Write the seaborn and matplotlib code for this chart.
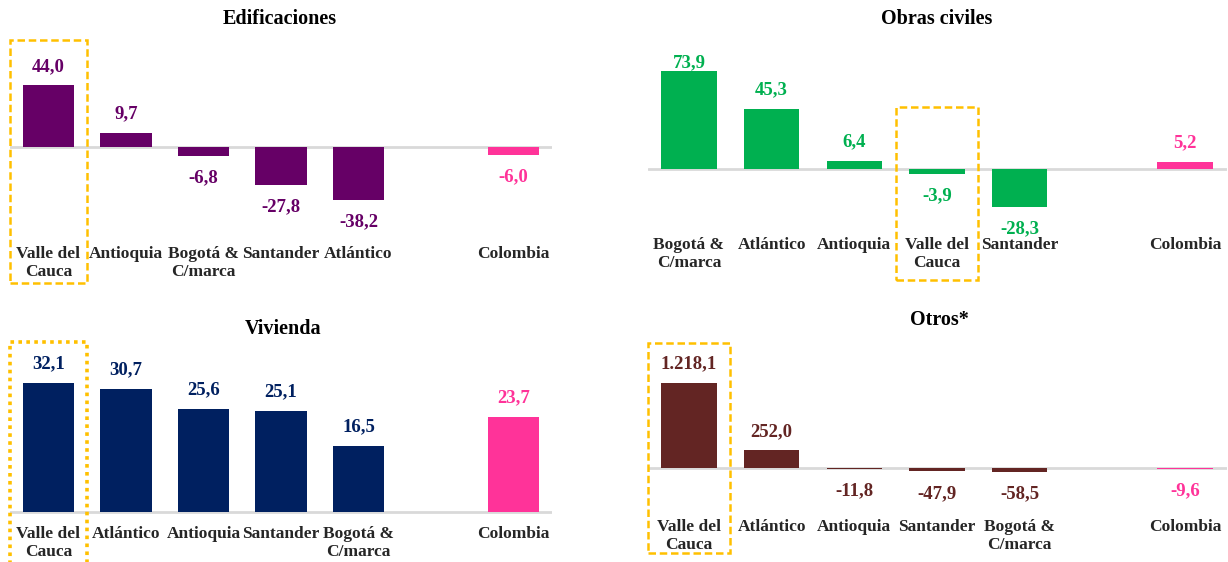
import matplotlib
matplotlib.use("Agg")
import pandas as pd
import matplotlib.pyplot as plt
import matplotlib.transforms as mtransforms
from matplotlib.patches import Rectangle
import seaborn as sns

# Datos de los cuatro paneles
edif_cats = ["Valle del\nCauca", "Antioquia", "Bogotá &\nC/marca", "Santander", "Atlántico", "Colombia"]
edif_vals = [44.0, 9.7, -6.8, -27.8, -38.2, -6.0]

obras_cats = ["Bogotá &\nC/marca", "Atlántico", "Antioquia", "Valle del\nCauca", "Santander", "Colombia"]
obras_vals = [73.9, 45.3, 6.4, -3.9, -28.3, 5.2]

viv_cats = ["Valle del\nCauca", "Atlántico", "Antioquia", "Santander", "Bogotá &\nC/marca", "Colombia"]
viv_vals = [32.1, 30.7, 25.6, 25.1, 16.5, 23.7]

otros_cats = ["Valle del\nCauca", "Atlántico", "Antioquia", "Santander", "Bogotá &\nC/marca", "Colombia"]
otros_vals = [1218.1, 252.0, -11.8, -47.9, -58.5, -9.6]

titulos = ["Edificaciones", "Obras civiles", "Vivienda", "Otros*"]
colores = ["#660066", "#00B050", "#002060", "#632523"]
rosa = "#FF3399"
naranja = "#FFC000"

sns.set_style("white")
plt.rcParams["font.family"] = ["Liberation Serif", "DejaVu Serif"]
plt.rcParams["font.weight"] = "bold"

W, H = 1228, 562
fig = plt.figure(figsize=(W / 100, H / 100), dpi=100)


def caja(x0, x1, ytop, ybot):
    return [x0 / W, 1 - ybot / H, (x1 - x0) / W, (ybot - ytop) / H]


def fmt(v):
    s = f"{v:,.1f}"
    return s.replace(",", "X").replace(".", ",").replace("X", ".")


paneles = [
    (edif_cats, edif_vals, caja(9.75, 552.25, 40, 243), (-69.3, 76.5), (280, 19), "Valle del\nCauca", (40, 283), "--"),
    (obras_cats, obras_vals, caja(647.6, 1226.5, 40, 234), (-49.0, 97.3), (937, 19), "Valle del\nCauca", (107, 280), "--"),
    (viv_cats, viv_vals, caja(9.75, 552.25, 340, 523), (-2.74, 42.8), (283, 329), "Valle del\nCauca", (342, 570), ":"),
    (otros_cats, otros_vals, caja(647.6, 1226.5, 340, 516), (-688, 1834), (939, 320), "Valle del\nCauca", (343, 553), "--"),
]

for i, (cats, vals, pos, ylim, tpos, marca, cy, estilo) in enumerate(paneles):
    ax = fig.add_axes(pos)
    df = pd.DataFrame({"cat": cats, "val": vals})
    orden = cats[:5] + [""] + cats[5:]
    paleta = {c: colores[i] for c in cats[:5]}
    paleta["Colombia"] = rosa
    sns.barplot(data=df, x="cat", y="val", hue="cat", order=orden, palette=paleta,
                width=0.67, legend=False, ax=ax, saturation=1, linewidth=0)
    ax.set_xlim(-0.5, 6.5)
    ax.set_ylim(*ylim)
    ax.axhline(0, color="#D9D9D9", lw=2, zorder=0)
    for s in ax.spines.values():
        s.set_visible(False)
    ax.set_yticks([])
    ax.set_xlabel("")
    ax.set_ylabel("")
    ax.tick_params(axis="x", length=0, pad=2, labelsize=12.5)
    for t in ax.get_xticklabels():
        t.set_fontweight("bold")
        t.set_linespacing(1.2)

    # etiquetas de valor (dentro del área del gráfico, como en Excel)
    top_px = ax.transAxes.transform((0, 1))[1]
    for p in ax.patches:
        h = p.get_height()
        if h != h:
            continue
        xc = p.get_x() + p.get_width() / 2
        xd, yd = ax.transData.transform((xc, h))
        yd = yd + 19 if h >= 0 else yd - 22
        yd = min(yd, top_px - 23)
        ax.annotate(fmt(h), (xc, h), xytext=(xd, yd), textcoords="figure pixels",
                    ha="center", va="center", fontsize=13.5, fontweight="bold",
                    color=p.get_facecolor(), annotation_clip=False)

    fig.text(tpos[0] / W, 1 - tpos[1] / H, titulos[i], ha="center", va="center",
             fontsize=14.5, fontweight="bold", color="black")

    k = orden.index(marca)
    tr = mtransforms.blended_transform_factory(ax.transData, fig.transFigure)
    y0 = 1 - cy[1] / H
    hh = (cy[1] - cy[0]) / H
    ls = (0, (1, 1.2)) if estilo == ":" else (0, (3, 1.5))
    lw = 2.6 if estilo == ":" else 1.8
    ax.add_patch(Rectangle((k - 0.5, y0), 1, hh, transform=tr, fill=False,
                           edgecolor=naranja, lw=lw, linestyle=ls, clip_on=False))

fig.savefig("out.png", dpi=100)
